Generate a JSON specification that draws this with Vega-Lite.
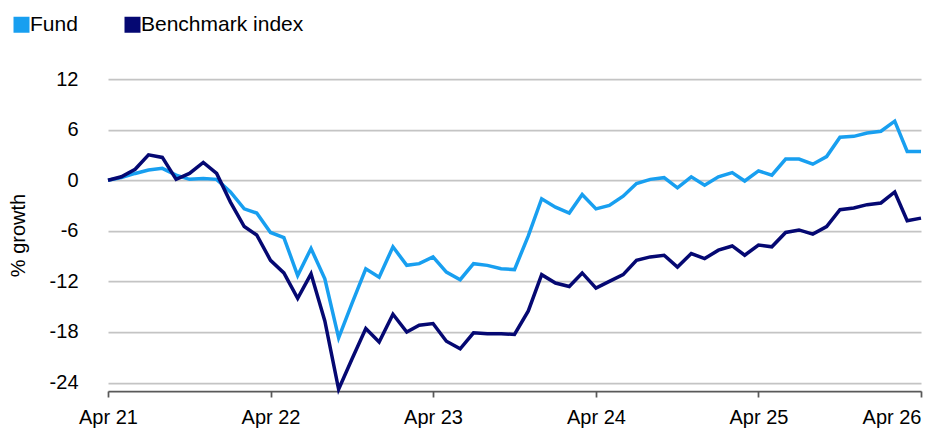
{
  "$schema": "https://vega.github.io/schema/vega-lite/v6.json",
  "width": 813,
  "height": 312,
  "autosize": "none",
  "padding": {"left": 108, "top": 79, "right": 4, "bottom": 38},
  "background": "white",
  "config": {
    "view": {"stroke": null},
    "font": "Liberation Sans",
    "axis": {"labelFont": "Liberation Sans", "titleFont": "Liberation Sans", "labelColor": "#000000", "titleColor": "#000000"},
    "legend": {"labelFont": "Liberation Sans"}
  },
  "data": {
    "values": [
      {"date": "2021-04-01", "series": "Fund", "value": 0},
      {"date": "2021-05-01", "series": "Fund", "value": 0.3},
      {"date": "2021-06-01", "series": "Fund", "value": 0.8},
      {"date": "2021-07-01", "series": "Fund", "value": 1.2},
      {"date": "2021-08-01", "series": "Fund", "value": 1.4},
      {"date": "2021-09-01", "series": "Fund", "value": 0.6},
      {"date": "2021-10-01", "series": "Fund", "value": 0.1},
      {"date": "2021-11-01", "series": "Fund", "value": 0.2},
      {"date": "2021-12-01", "series": "Fund", "value": 0.1},
      {"date": "2022-01-01", "series": "Fund", "value": -1.4},
      {"date": "2022-02-01", "series": "Fund", "value": -3.4},
      {"date": "2022-03-01", "series": "Fund", "value": -3.9},
      {"date": "2022-04-01", "series": "Fund", "value": -6.2},
      {"date": "2022-05-01", "series": "Fund", "value": -6.8},
      {"date": "2022-06-01", "series": "Fund", "value": -11.3},
      {"date": "2022-07-01", "series": "Fund", "value": -8.1},
      {"date": "2022-08-01", "series": "Fund", "value": -11.7},
      {"date": "2022-09-01", "series": "Fund", "value": -18.7},
      {"date": "2022-10-01", "series": "Fund", "value": -14.6},
      {"date": "2022-11-01", "series": "Fund", "value": -10.5},
      {"date": "2022-12-01", "series": "Fund", "value": -11.5},
      {"date": "2023-01-01", "series": "Fund", "value": -7.9},
      {"date": "2023-02-01", "series": "Fund", "value": -10.1},
      {"date": "2023-03-01", "series": "Fund", "value": -9.9},
      {"date": "2023-04-01", "series": "Fund", "value": -9.1},
      {"date": "2023-05-01", "series": "Fund", "value": -10.9},
      {"date": "2023-06-01", "series": "Fund", "value": -11.8},
      {"date": "2023-07-01", "series": "Fund", "value": -9.9},
      {"date": "2023-08-01", "series": "Fund", "value": -10.1},
      {"date": "2023-09-01", "series": "Fund", "value": -10.5},
      {"date": "2023-10-01", "series": "Fund", "value": -10.6},
      {"date": "2023-11-01", "series": "Fund", "value": -6.6},
      {"date": "2023-12-01", "series": "Fund", "value": -2.2},
      {"date": "2024-01-01", "series": "Fund", "value": -3.2},
      {"date": "2024-02-01", "series": "Fund", "value": -3.9},
      {"date": "2024-03-01", "series": "Fund", "value": -1.7},
      {"date": "2024-04-01", "series": "Fund", "value": -3.4},
      {"date": "2024-05-01", "series": "Fund", "value": -3.0},
      {"date": "2024-06-01", "series": "Fund", "value": -1.9},
      {"date": "2024-07-01", "series": "Fund", "value": -0.4},
      {"date": "2024-08-01", "series": "Fund", "value": 0.1},
      {"date": "2024-09-01", "series": "Fund", "value": 0.3},
      {"date": "2024-10-01", "series": "Fund", "value": -0.9},
      {"date": "2024-11-01", "series": "Fund", "value": 0.4},
      {"date": "2024-12-01", "series": "Fund", "value": -0.6},
      {"date": "2025-01-01", "series": "Fund", "value": 0.4},
      {"date": "2025-02-01", "series": "Fund", "value": 0.9},
      {"date": "2025-03-01", "series": "Fund", "value": -0.1},
      {"date": "2025-04-01", "series": "Fund", "value": 1.1},
      {"date": "2025-05-01", "series": "Fund", "value": 0.6},
      {"date": "2025-06-01", "series": "Fund", "value": 2.5},
      {"date": "2025-07-01", "series": "Fund", "value": 2.5},
      {"date": "2025-08-01", "series": "Fund", "value": 1.9},
      {"date": "2025-09-01", "series": "Fund", "value": 2.8},
      {"date": "2025-10-01", "series": "Fund", "value": 5.1},
      {"date": "2025-11-01", "series": "Fund", "value": 5.2},
      {"date": "2025-12-01", "series": "Fund", "value": 5.6},
      {"date": "2026-01-01", "series": "Fund", "value": 5.8},
      {"date": "2026-02-01", "series": "Fund", "value": 7.0},
      {"date": "2026-03-01", "series": "Fund", "value": 3.4},
      {"date": "2026-04-01", "series": "Fund", "value": 3.4},
      {"date": "2021-04-01", "series": "Benchmark index", "value": 0},
      {"date": "2021-05-01", "series": "Benchmark index", "value": 0.4},
      {"date": "2021-06-01", "series": "Benchmark index", "value": 1.3},
      {"date": "2021-07-01", "series": "Benchmark index", "value": 3.0},
      {"date": "2021-08-01", "series": "Benchmark index", "value": 2.7},
      {"date": "2021-09-01", "series": "Benchmark index", "value": 0.1},
      {"date": "2021-10-01", "series": "Benchmark index", "value": 0.8},
      {"date": "2021-11-01", "series": "Benchmark index", "value": 2.1},
      {"date": "2021-12-01", "series": "Benchmark index", "value": 0.8},
      {"date": "2022-01-01", "series": "Benchmark index", "value": -2.6},
      {"date": "2022-02-01", "series": "Benchmark index", "value": -5.5},
      {"date": "2022-03-01", "series": "Benchmark index", "value": -6.5},
      {"date": "2022-04-01", "series": "Benchmark index", "value": -9.5},
      {"date": "2022-05-01", "series": "Benchmark index", "value": -11.0},
      {"date": "2022-06-01", "series": "Benchmark index", "value": -14.0},
      {"date": "2022-07-01", "series": "Benchmark index", "value": -11.1},
      {"date": "2022-08-01", "series": "Benchmark index", "value": -16.7},
      {"date": "2022-09-01", "series": "Benchmark index", "value": -24.8},
      {"date": "2022-10-01", "series": "Benchmark index", "value": -21.2},
      {"date": "2022-11-01", "series": "Benchmark index", "value": -17.6},
      {"date": "2022-12-01", "series": "Benchmark index", "value": -19.2},
      {"date": "2023-01-01", "series": "Benchmark index", "value": -15.9},
      {"date": "2023-02-01", "series": "Benchmark index", "value": -18.0},
      {"date": "2023-03-01", "series": "Benchmark index", "value": -17.2},
      {"date": "2023-04-01", "series": "Benchmark index", "value": -17.0},
      {"date": "2023-05-01", "series": "Benchmark index", "value": -19.1},
      {"date": "2023-06-01", "series": "Benchmark index", "value": -20.0},
      {"date": "2023-07-01", "series": "Benchmark index", "value": -18.1},
      {"date": "2023-08-01", "series": "Benchmark index", "value": -18.2},
      {"date": "2023-09-01", "series": "Benchmark index", "value": -18.2},
      {"date": "2023-10-01", "series": "Benchmark index", "value": -18.3},
      {"date": "2023-11-01", "series": "Benchmark index", "value": -15.5},
      {"date": "2023-12-01", "series": "Benchmark index", "value": -11.2},
      {"date": "2024-01-01", "series": "Benchmark index", "value": -12.2},
      {"date": "2024-02-01", "series": "Benchmark index", "value": -12.6},
      {"date": "2024-03-01", "series": "Benchmark index", "value": -11.0},
      {"date": "2024-04-01", "series": "Benchmark index", "value": -12.8},
      {"date": "2024-05-01", "series": "Benchmark index", "value": -12.0},
      {"date": "2024-06-01", "series": "Benchmark index", "value": -11.2},
      {"date": "2024-07-01", "series": "Benchmark index", "value": -9.5},
      {"date": "2024-08-01", "series": "Benchmark index", "value": -9.1},
      {"date": "2024-09-01", "series": "Benchmark index", "value": -8.9},
      {"date": "2024-10-01", "series": "Benchmark index", "value": -10.3},
      {"date": "2024-11-01", "series": "Benchmark index", "value": -8.7},
      {"date": "2024-12-01", "series": "Benchmark index", "value": -9.3},
      {"date": "2025-01-01", "series": "Benchmark index", "value": -8.3},
      {"date": "2025-02-01", "series": "Benchmark index", "value": -7.8},
      {"date": "2025-03-01", "series": "Benchmark index", "value": -8.9},
      {"date": "2025-04-01", "series": "Benchmark index", "value": -7.7},
      {"date": "2025-05-01", "series": "Benchmark index", "value": -7.9},
      {"date": "2025-06-01", "series": "Benchmark index", "value": -6.2},
      {"date": "2025-07-01", "series": "Benchmark index", "value": -5.9},
      {"date": "2025-08-01", "series": "Benchmark index", "value": -6.4},
      {"date": "2025-09-01", "series": "Benchmark index", "value": -5.5},
      {"date": "2025-10-01", "series": "Benchmark index", "value": -3.5},
      {"date": "2025-11-01", "series": "Benchmark index", "value": -3.3},
      {"date": "2025-12-01", "series": "Benchmark index", "value": -2.9},
      {"date": "2026-01-01", "series": "Benchmark index", "value": -2.7},
      {"date": "2026-02-01", "series": "Benchmark index", "value": -1.4},
      {"date": "2026-03-01", "series": "Benchmark index", "value": -4.8},
      {"date": "2026-04-01", "series": "Benchmark index", "value": -4.5}
    ]
  },
  "mark": {"type": "line", "strokeWidth": 3.5, "strokeJoin": "miter", "strokeCap": "butt", "clip": false},
  "encoding": {
    "x": {
      "field": "date",
      "type": "temporal",
      "scale": {"type": "utc", "domain": [{"year": 2021, "month": 4, "date": 1, "utc": true}, {"year": 2026, "month": 4, "date": 1, "utc": true}]},
      "axis": {
        "title": null,
        "values": [
          {"year": 2021, "month": 4, "date": 1, "utc": true},
          {"year": 2022, "month": 4, "date": 1, "utc": true},
          {"year": 2023, "month": 4, "date": 1, "utc": true},
          {"year": 2024, "month": 4, "date": 1, "utc": true},
          {"year": 2025, "month": 4, "date": 1, "utc": true},
          {"year": 2026, "month": 4, "date": 1, "utc": true}
        ],
        "format": "%b %y",
        "grid": false,
        "domainColor": "#595959",
        "domainWidth": 1.75,
        "tickColor": "#595959",
        "tickWidth": 1.75,
        "tickSize": 6,
        "labelPadding": 10,
        "labelFontSize": 20,
        "labelAlign": {"condition": {"test": "datum.index == 1", "value": "right"}, "value": "center"}
      }
    },
    "y": {
      "field": "value",
      "type": "quantitative",
      "scale": {"domain": [-25, 12], "nice": false, "zero": false},
      "axis": {
        "title": "% growth",
        "values": [-24, -18, -12, -6, 0, 6, 12],
        "labelExpr": "datum.value < 0 ? '-' + abs(datum.value) : '' + datum.value",
        "domain": false,
        "ticks": false,
        "grid": true,
        "gridColor": "#c4c4c4",
        "gridWidth": 1.75,
        "labelPadding": 30,
        "labelFontSize": 20,
        "titleFontSize": 20,
        "titleFontWeight": "normal",
        "titlePadding": 21
      }
    },
    "color": {
      "field": "series",
      "type": "nominal",
      "scale": {"domain": ["Fund", "Benchmark index"], "range": ["#189ff0", "#050872"]},
      "legend": {
        "title": null,
        "orient": "none",
        "direction": "horizontal",
        "legendX": -97,
        "legendY": -65,
        "padding": 0,
        "symbolType": "square",
        "symbolSize": 256,
        "symbolOffset": 0,
        "labelFontSize": 21,
        "labelOffset": -2,
        "labelLimit": 400,
        "labelColor": "#000000",
        "columnPadding": 44,
        "encode": {
          "symbols": {
            "update": {
              "fill": {"scale": "color", "field": "value"},
              "stroke": {"value": "transparent"},
              "strokeWidth": {"value": 0}
            }
          }
        }
      }
    }
  }
}
